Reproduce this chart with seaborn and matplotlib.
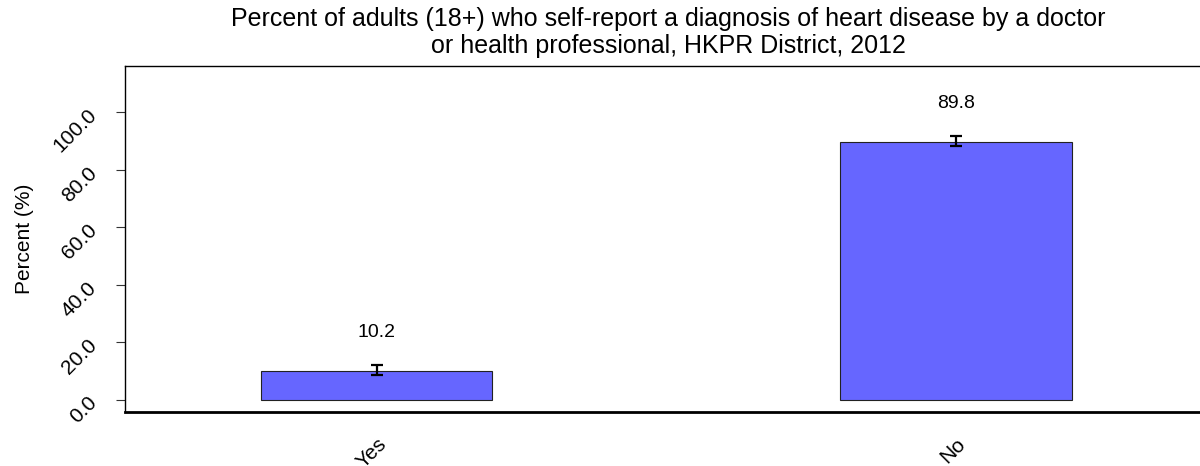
import matplotlib
matplotlib.use("Agg")
import matplotlib.pyplot as plt
import seaborn as sns
import pandas as pd

categories = ["Yes", "No"]
percent = [10.2, 89.8]
ci_lower = [8.5, 88.2]
ci_upper = [12.0, 91.6]
yticks = [0, 20, 40, 60, 80, 100]
title = ("Percent of adults (18+) who self-report a diagnosis of heart disease by a doctor\n"
         "or health professional, HKPR District, 2012")

sns.set_theme(style="white")
plt.rcParams["font.family"] = ["Liberation Sans", "DejaVu Sans"]
plt.rcParams["text.color"] = "black"
plt.rcParams["axes.labelcolor"] = "black"
plt.rcParams["xtick.color"] = "black"
plt.rcParams["ytick.color"] = "black"

df = pd.DataFrame({"cat": categories, "pct": percent})

fig = plt.figure(figsize=(12, 4.66), dpi=100)
ax = fig.add_axes([125 / 1200, 54 / 466, 1 - 125 / 1200, (412 - 66) / 466])

sns.barplot(data=df, x="cat", y="pct", order=categories, color="#6666FF",
            saturation=1, width=0.4, edgecolor="#222222", linewidth=0.8, ax=ax)

xs = list(range(len(categories)))
yerr = [[p - l for p, l in zip(percent, ci_lower)], [u - p for p, u in zip(percent, ci_upper)]]
ax.errorbar(xs, percent, yerr=yerr, fmt="none", ecolor="black", elinewidth=1.6,
            capsize=4.3, capthick=1.6)

for x, p in zip(xs, percent):
    ax.text(x, p + 13.3, f"{p:.1f}", ha="center", va="center", fontsize=14, color="black")

ax.set_xlim(-0.434, 1.421)
ax.set_ylim(-4.2, 116.1)
ax.set_yticks(yticks)
ax.set_yticklabels([f"{v:.1f}" for v in yticks], rotation=45, fontsize=15,
                   ha="right", va="center", rotation_mode="anchor")
ax.set_xticks(xs)
ax.set_xticklabels(categories, rotation=45, fontsize=15, ha="right", va="top",
                   rotation_mode="anchor")
ax.tick_params(axis="y", which="both", left=True, length=6.5, width=0.8, color="#333333", pad=16)
ax.tick_params(axis="x", which="both", bottom=False, pad=10)
ax.set_xlabel("")
ax.set_ylabel("Percent (%)", fontsize=15)
ax.yaxis.set_label_coords(-0.085, 0.5)

for side in ["left", "top"]:
    ax.spines[side].set_visible(True)
    ax.spines[side].set_color("black")
    ax.spines[side].set_linewidth(1.0)
ax.spines["bottom"].set_color("black")
ax.spines["bottom"].set_linewidth(2.0)
ax.spines["right"].set_visible(False)

fig.text(668 / 1200, 1 - 32.5 / 466, title, ha="center", va="center", fontsize=18,
         linespacing=1.12)

fig.savefig("out.png", dpi=100)
